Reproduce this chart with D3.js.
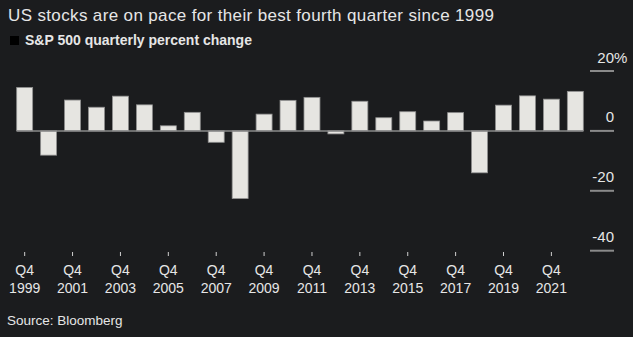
<!DOCTYPE html>
<html><head><meta charset="utf-8">
<script src="https://cdn.jsdelivr.net/npm/d3@7"></script>
<style>
html,body{margin:0;padding:0;background:#1b1c1e;}
svg{display:block;font-family:"Liberation Sans",Arial,Helvetica,sans-serif;}
</style></head>
<body><svg id="chart" width="633" height="337"></svg>
<script>
const quarters = ["Q4 1999","Q4 2000","Q4 2001","Q4 2002","Q4 2003","Q4 2004","Q4 2005","Q4 2006","Q4 2007","Q4 2008","Q4 2009","Q4 2010","Q4 2011","Q4 2012","Q4 2013","Q4 2014","Q4 2015","Q4 2016","Q4 2017","Q4 2018","Q4 2019","Q4 2020","Q4 2021","Q4 2022"];
const pctChange = [14.5,-8.1,10.3,7.9,11.6,8.7,1.7,6.2,-3.8,-22.6,5.6,10.2,11.2,-1.0,9.9,4.4,6.4,3.3,6.1,-14.0,8.6,11.7,10.6,13.2];
const yTicks = [20,0,-20,-40];
const xLabelQuarters = ["Q4 1999","Q4 2001","Q4 2003","Q4 2005","Q4 2007","Q4 2009","Q4 2011","Q4 2013","Q4 2015","Q4 2017","Q4 2019","Q4 2021"];
const titleText = "US stocks are on pace for their best fourth quarter since 1999";
const legendText = "S&P 500 quarterly percent change";
const sourceText = "Source: Bloomberg";

const svg = d3.select("#chart");
const x = d3.scaleBand().domain(quarters).range([12.7, 587.3]).paddingInner(0.333).paddingOuter(0.1667);
const y = d3.scaleLinear().domain([-40, 20]).range([250.7, 71]);

// title
svg.append("text").attr("x", 8).attr("y", 21).attr("fill", "#e6e6e6")
  .style("font-size", "17px").style("letter-spacing", "0.36px").text(titleText);
// legend
svg.append("rect").attr("x", 10).attr("y", 36).attr("width", 9).attr("height", 9).attr("fill", "#000");
svg.append("text").attr("x", 25).attr("y", 45).attr("fill", "#e6e6e6")
  .style("font-size", "14px").style("font-weight", "bold").text(legendText);

// gridline segments on right
const gx0 = 590, gx1 = 614;
svg.append("g").selectAll("line").data(yTicks).join("line")
  .attr("x1", gx0).attr("x2", gx1).attr("y1", d => y(d)).attr("y2", d => y(d))
  .attr("stroke", "#8a8a8a").attr("stroke-width", 2);
svg.append("g").selectAll("text").data(yTicks).join("text")
  .attr("x", gx1).attr("y", d => y(d) - 8.5).attr("text-anchor", "end")
  .attr("fill", "#e6e6e6").style("font-size", "15px").text(d => d);
svg.append("text").attr("x", gx1).attr("y", y(20) - 8.5).attr("fill", "#e6e6e6")
  .style("font-size", "15px").text("%");

// bars
svg.append("g").selectAll("rect").data(quarters).join("rect")
  .attr("x", d => x(d)).attr("width", x.bandwidth())
  .attr("y", (d, i) => y(Math.max(0, pctChange[i])))
  .attr("height", (d, i) => Math.abs(y(pctChange[i]) - y(0)))
  .attr("fill", "#e6e5e1").attr("stroke", "#8f8f8f").attr("stroke-width", 0.8);

// zero baseline
svg.append("line").attr("x1", x(quarters[0])).attr("x2", x(quarters[quarters.length - 1]) + x.bandwidth())
  .attr("y1", y(0)).attr("y2", y(0)).attr("stroke", "#8a8a8a").attr("stroke-width", 1.5);

// x axis
const xAxis = d3.axisBottom(x).tickValues(xLabelQuarters).tickSize(4).tickFormat("");
const ax = svg.append("g").attr("transform", "translate(0,252)").call(xAxis);
ax.select(".domain").remove();
ax.selectAll(".tick line").attr("stroke", "#cfcfcf").attr("stroke-width", 1);
const lbl = svg.append("g").selectAll("text").data(xLabelQuarters).join("text")
  .attr("x", d => x(d) + x.bandwidth() / 2).attr("text-anchor", "middle")
  .attr("fill", "#e6e6e6").style("font-size", "14px");
lbl.append("tspan").attr("x", d => x(d) + x.bandwidth() / 2).attr("y", 275).text(d => d.split(" ")[0]);
lbl.append("tspan").attr("x", d => x(d) + x.bandwidth() / 2).attr("y", 292.5).text(d => d.split(" ")[1]);

// source
svg.append("text").attr("x", 7).attr("y", 325).attr("fill", "#e6e6e6")
  .style("font-size", "13.5px").text(sourceText);
</script></body></html>
